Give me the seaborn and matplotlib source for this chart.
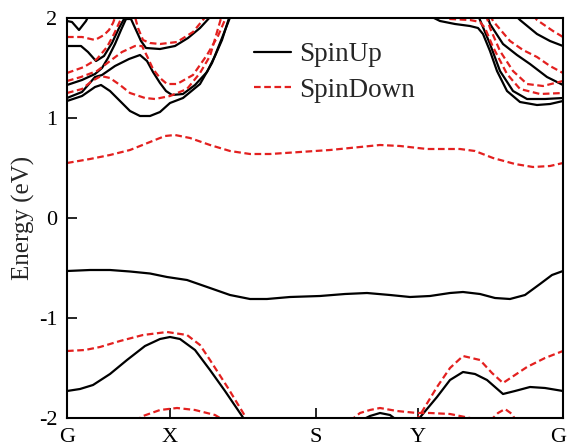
import matplotlib
matplotlib.use("Agg")
import matplotlib.pyplot as plt
import matplotlib.transforms as mtransforms
from matplotlib.lines import Line2D
import seaborn as sns
import pandas as pd

# ---- k-path (arbitrary path units) and high-symmetry labels ----
kpath_ticks = [0, 103, 249, 351, 496]
kpath_labels = ["G", "X", "S", "Y", "G"]
yticks = [-2, -1, 0, 1, 2]

# ---- Spin-up bands (k, E in eV) ----
up_vb1_k = [0, 23, 43, 63, 83, 100, 120, 143, 163, 183, 200, 223, 253, 278, 300, 323, 343, 363, 383, 396, 413, 428, 443, 458, 473, 485, 496]
up_vb1_e = [-0.53, -0.52, -0.52, -0.535, -0.555, -0.59, -0.62, -0.70, -0.77, -0.81, -0.81, -0.79, -0.78, -0.76, -0.75, -0.77, -0.79, -0.78, -0.75, -0.74, -0.76, -0.80, -0.81, -0.77, -0.66, -0.57, -0.53]
up_vb2a_k = [0, 13, 26, 43, 60, 78, 93, 103, 113, 128, 143, 158, 175, 179]
up_vb2a_e = [-1.73, -1.71, -1.67, -1.56, -1.42, -1.28, -1.21, -1.19, -1.21, -1.32, -1.52, -1.73, -1.98, -2.04]
up_vb2b_k = [350, 355, 370, 383, 396, 408, 420, 436, 448, 463, 478, 496]
up_vb2b_e = [-2.03, -1.97, -1.79, -1.62, -1.54, -1.56, -1.62, -1.76, -1.73, -1.69, -1.70, -1.73]
up_bump_k = [293, 303, 313, 323, 331]
up_bump_e = [-2.03, -1.98, -1.95, -1.97, -2.03]
up_c1_k = [0, 5, 12, 19, 22]
up_c1_e = [1.97, 1.96, 1.88, 1.97, 2.03]
up_c2_k = [0, 14, 21, 29, 37, 45, 52, 57, 64, 69, 74, 79, 93, 108, 121, 133, 145]
up_c2_e = [1.72, 1.72, 1.66, 1.57, 1.62, 1.75, 1.90, 1.99, 1.99, 1.88, 1.77, 1.70, 1.69, 1.72, 1.80, 1.90, 2.03]
up_c3_k = [0, 15, 28, 35, 41, 48, 54, 59, 61]
up_c3_e = [1.33, 1.38, 1.44, 1.50, 1.60, 1.74, 1.88, 1.99, 2.03]
up_c4_k = [0, 15, 28, 35, 48, 62, 73, 80, 86, 93, 99, 105, 116, 128, 140, 148, 155, 163]
up_c4_e = [1.20, 1.26, 1.41, 1.43, 1.52, 1.59, 1.63, 1.57, 1.46, 1.35, 1.27, 1.23, 1.24, 1.33, 1.46, 1.62, 1.78, 2.03]
up_c5_k = [0, 15, 28, 34, 43, 53, 63, 73, 83, 93, 103, 116, 133, 145, 155, 164]
up_c5_e = [1.17, 1.22, 1.31, 1.33, 1.27, 1.17, 1.07, 1.02, 1.02, 1.06, 1.15, 1.20, 1.34, 1.55, 1.80, 2.03]
up_r1_k = [448, 453, 470, 483, 496]
up_r1_e = [2.03, 1.98, 1.84, 1.77, 1.72]
up_r2_k = [420, 423, 436, 450, 463, 480, 496]
up_r2_e = [2.03, 1.94, 1.74, 1.63, 1.54, 1.41, 1.33]
up_r3_k = [411, 413, 423, 433, 446, 460, 478, 496]
up_r3_e = [2.03, 1.98, 1.74, 1.47, 1.27, 1.19, 1.19, 1.20]
up_r4_k = [361, 373, 388, 403, 411, 416, 423, 430, 440, 453, 470, 483, 496]
up_r4_e = [2.03, 1.97, 1.94, 1.92, 1.90, 1.84, 1.67, 1.47, 1.27, 1.16, 1.13, 1.14, 1.17]

# ---- Spin-down bands ----
dn_cb1_k = [0, 23, 43, 63, 83, 98, 108, 123, 143, 163, 183, 203, 233, 263, 293, 313, 333, 360, 393, 408, 426, 448, 466, 483, 496]
dn_cb1_e = [0.55, 0.59, 0.63, 0.68, 0.76, 0.82, 0.83, 0.80, 0.73, 0.67, 0.64, 0.64, 0.66, 0.68, 0.71, 0.73, 0.72, 0.69, 0.69, 0.67, 0.60, 0.54, 0.51, 0.52, 0.55]
dn_vb2a_k = [0, 18, 33, 53, 76, 100, 120, 133, 143, 161, 178, 181]
dn_vb2a_e = [-1.33, -1.32, -1.29, -1.23, -1.17, -1.14, -1.17, -1.27, -1.42, -1.70, -1.98, -2.04]
dn_vb2b_k = [348, 353, 370, 383, 396, 413, 425, 436, 448, 460, 478, 496]
dn_vb2b_e = [-2.03, -1.97, -1.69, -1.50, -1.38, -1.42, -1.55, -1.65, -1.57, -1.49, -1.40, -1.33]
dn_dome1_k = [68, 76, 93, 110, 128, 148, 158]
dn_dome1_e = [-2.03, -1.98, -1.92, -1.90, -1.92, -1.97, -2.03]
dn_bump_k = [283, 293, 303, 313, 330, 350, 363, 383, 403, 408]
dn_bump_e = [-2.03, -1.95, -1.92, -1.90, -1.93, -1.95, -1.95, -1.96, -2.00, -2.03]
dn_dome2_k = [423, 431, 438, 445, 449]
dn_dome2_e = [-2.03, -1.95, -1.91, -1.96, -2.03]
dn_ca_k = [0, 15, 28, 37, 42, 46, 49]
dn_ca_e = [1.81, 1.81, 1.78, 1.83, 1.88, 1.95, 2.03]
dn_cb_k = [0, 17, 30, 40, 47, 53, 57, 67, 71, 76, 83, 93, 110, 126, 140]
dn_cb_e = [1.45, 1.51, 1.59, 1.71, 1.84, 1.97, 2.05, 2.05, 1.90, 1.78, 1.75, 1.74, 1.76, 1.86, 2.03]
dn_cc_k = [0, 14, 30, 43, 55, 68, 75, 80, 86, 93, 100, 110, 126, 140, 151, 160]
dn_cc_e = [1.37, 1.41, 1.47, 1.57, 1.66, 1.72, 1.72, 1.62, 1.49, 1.40, 1.34, 1.34, 1.43, 1.63, 1.82, 2.03]
dn_cd_k = [0, 15, 25, 34, 43, 53, 63, 78, 88, 103, 120, 133, 143, 155]
dn_cd_e = [1.25, 1.29, 1.37, 1.42, 1.40, 1.33, 1.25, 1.20, 1.19, 1.22, 1.29, 1.45, 1.62, 2.03]
dn_r1_k = [466, 470, 486, 496]
dn_r1_e = [2.03, 1.98, 1.87, 1.81]
dn_r2_k = [423, 426, 443, 456, 470, 483, 496]
dn_r2_e = [2.03, 1.97, 1.77, 1.68, 1.61, 1.52, 1.45]
dn_r3_k = [419, 423, 433, 446, 460, 476, 496]
dn_r3_e = [2.03, 1.90, 1.67, 1.47, 1.34, 1.32, 1.37]
dn_r4_k = [373, 383, 403, 413, 418, 426, 440, 453, 473, 496]
dn_r4_e = [2.03, 1.99, 1.98, 1.96, 1.90, 1.71, 1.44, 1.29, 1.24, 1.25]

up_bands = [(up_vb1_k, up_vb1_e), (up_vb2a_k, up_vb2a_e), (up_vb2b_k, up_vb2b_e),
            (up_bump_k, up_bump_e), (up_c1_k, up_c1_e), (up_c2_k, up_c2_e),
            (up_c3_k, up_c3_e), (up_c4_k, up_c4_e), (up_c5_k, up_c5_e),
            (up_r1_k, up_r1_e), (up_r2_k, up_r2_e), (up_r3_k, up_r3_e), (up_r4_k, up_r4_e)]
dn_bands = [(dn_cb1_k, dn_cb1_e), (dn_vb2a_k, dn_vb2a_e), (dn_vb2b_k, dn_vb2b_e),
            (dn_dome1_k, dn_dome1_e), (dn_bump_k, dn_bump_e), (dn_dome2_k, dn_dome2_e),
            (dn_ca_k, dn_ca_e), (dn_cb_k, dn_cb_e), (dn_cc_k, dn_cc_e), (dn_cd_k, dn_cd_e),
            (dn_r1_k, dn_r1_e), (dn_r2_k, dn_r2_e), (dn_r3_k, dn_r3_e), (dn_r4_k, dn_r4_e)]

rows = []
for spin, bands in (("SpinUp", up_bands), ("SpinDown", dn_bands)):
    for i, (ks, es) in enumerate(bands):
        for order, (k, e) in enumerate(zip(ks, es)):
            rows.append({"k": k, "E": e, "band": f"{spin}_{i}", "spin": spin, "order": order})
df = pd.DataFrame(rows)

sns.set_theme(style="ticks")
plt.rcParams["font.family"] = ["Liberation Serif", "DejaVu Serif"]
plt.rcParams["axes.unicode_minus"] = False

RED = "#e3201f"
fig = plt.figure(figsize=(5.68, 4.46), dpi=100)
ax = fig.add_axes([67 / 568, 1 - 418 / 446, 496 / 568, 400 / 446])

sns.lineplot(data=df, x="k", y="E", hue="spin", style="spin", units="band",
             estimator=None, sort=False, ax=ax, legend=False,
             palette={"SpinUp": "black", "SpinDown": RED},
             dashes={"SpinUp": "", "SpinDown": (3.0, 1.6)}, linewidth=1.6)

ax.set_xlim(kpath_ticks[0], kpath_ticks[-1])
ax.set_ylim(-2, 2)
ax.set_xticks(kpath_ticks)
ax.set_xticklabels(kpath_labels)
ax.set_yticks(yticks)
ax.set_yticklabels([str(v) for v in yticks])
ax.set_xlabel("")
ax.set_ylabel("Energy (eV)", fontsize=18, labelpad=3)
ax.tick_params(axis="both", direction="in", length=7, width=1.2, labelsize=16, pad=7, colors="black")
for s in ax.spines.values():
    s.set_linewidth(1.5)
    s.set_color("black")

# nudge the last "G" label slightly left so it stays inside the figure
last = ax.get_xticklabels()[-1]
last.set_transform(last.get_transform() + mtransforms.ScaledTranslation(-5 / 100, 0, fig.dpi_scale_trans))

handles = [Line2D([0], [0], color="black", lw=1.6),
           Line2D([0], [0], color=RED, lw=1.6, dashes=(3.0, 1.6))]
ax.legend(handles, ["SpinUp", "SpinDown"], loc="upper left", bbox_to_anchor=(0.377, 0.94),
          frameon=False, fontsize=19.5, handlelength=1.35, handletextpad=0.3,
          labelspacing=0.4, borderpad=0, borderaxespad=0)

fig.savefig("out.png", dpi=100)
